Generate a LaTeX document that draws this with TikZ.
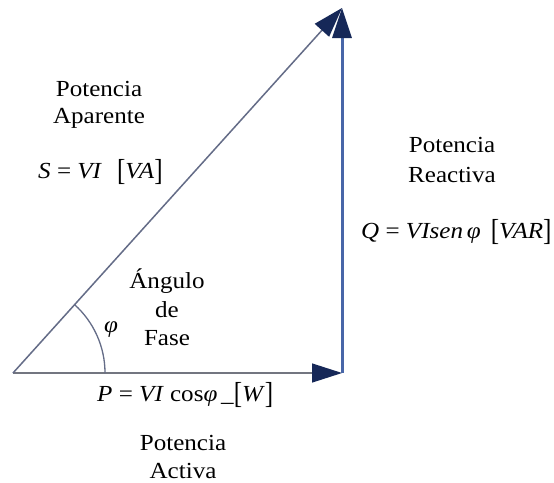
\documentclass[tikz,border=0pt]{standalone}
\usepackage{fontspec}
\usepackage{graphicx}
\setmainfont{Liberation Serif}
\newfontfamily\tnr[FakeStretch=1.09]{Liberation Serif}
\usetikzlibrary{arrows.meta}
\definecolor{navy}{RGB}{22,40,88}
\definecolor{hypo}{RGB}{100,108,135}
\definecolor{horiz}{RGB}{115,118,128}
\definecolor{vert}{RGB}{72,102,168}
\newcommand{\tbr}[1]{\raisebox{-0.22ex}{\scalebox{1}[1.32]{#1}}}
\begin{document}
\begin{tikzpicture}[x=1pt,y=-1pt,
  lbl/.style={inner sep=0pt,anchor=base,font=\tnr\fontsize{23}{28}\selectfont},
  eq/.style={inner sep=0pt,anchor=base west,font=\tnr\fontsize{23}{28}\selectfont},
  tip/.style={-{Triangle[length=30pt,width=19pt,fill=navy,color=navy]}}]
\path[use as bounding box] (0,0) rectangle (554,482);
\fill[white] (0,0) rectangle (554,482);
\coordinate (O) at (13,373);
\coordinate (A) at (342,373);
\coordinate (T) at (342,8);
\draw[tip,color=horiz,line width=1.3pt] (O) -- (A);
\draw[tip,color=vert,line width=3pt] (A) -- (T);
\draw[tip,color=hypo,line width=1.5pt] (O) -- (T);
\draw[color=hypo,line width=1.3pt] ([xshift=92pt]O) arc[start angle=0,end angle=47.97,radius=92pt];
\node[lbl] (a1) at (99,96) {Potencia};
\node[lbl] (a2) at (99,123) {Aparente};
\node[eq] (s) at (38,178) {\textit{S} = \textit{VI}\hspace{15pt}\tbr{[}\textit{VA}\tbr{]}};
\node[lbl] (r1) at (452,152) {Potencia};
\node[lbl] (r2) at (452,182) {Reactiva};
\node[eq] (q) at (361,238) {\textit{Q} = \textit{VIsen}\,\textit{φ}\hspace{10pt}\tbr{[}\textit{VAR}\tbr{]}};
\node[lbl] (g1) at (167,288) {Ángulo};
\node[lbl] (g2) at (167,317) {de};
\node[lbl] (g3) at (167,345) {Fase};
\node[lbl] (phi) at (111,332) {\textit{φ}};
\node[eq] (p) at (97,401) {\textit{P} = \textit{VI} cos\textit{φ}\,\_\tbr{[}\textit{W}\tbr{]}};
\node[lbl] (c1) at (183,450) {Potencia};
\node[lbl] (c2) at (183,478) {Activa};
\end{tikzpicture}
\end{document}
